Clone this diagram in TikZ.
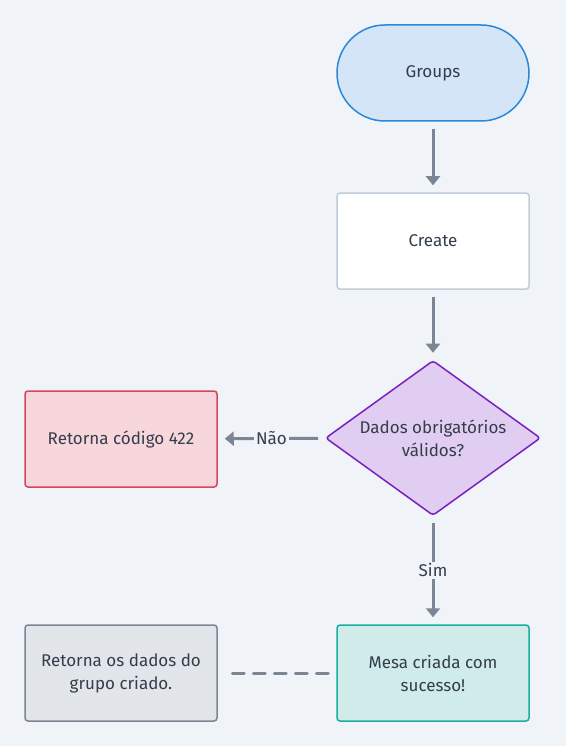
\documentclass[tikz,border=0pt]{standalone}
\usepackage{fontspec}
\setmainfont{Fira Sans}
\usetikzlibrary{shapes.geometric,arrows.meta}
\definecolor{bg}{HTML}{F0F3F7}
\definecolor{txt}{HTML}{333D4B}
\definecolor{edge}{HTML}{7A8694}
\definecolor{gline}{HTML}{2B88D8}
\definecolor{gfill}{RGB}{211,229,246}
\definecolor{cline}{RGB}{192,204,216}
\definecolor{dline}{RGB}{122,31,192}
\definecolor{dfill}{RGB}{225,205,242}
\definecolor{rline}{RGB}{217,69,92}
\definecolor{rfill}{RGB}{248,215,220}
\definecolor{mline}{RGB}{26,175,154}
\definecolor{mfill}{RGB}{207,236,234}
\definecolor{tfill}{RGB}{226,230,234}
\tikzset{
  base/.style={minimum width=192pt,minimum height=96pt,inner sep=0pt,text=txt,font=\fontsize{17pt}{23pt}\selectfont,align=center,line width=1.5pt,rounded corners=3pt},
  conn/.style={draw=edge,line width=3pt,-{Triangle[length=9pt,width=14pt]},shorten >=7pt,shorten <=7pt},
  lab/.style={fill=bg,text=txt,font=\fontsize{17pt}{20pt}\selectfont,inner sep=2pt}
}
\begin{document}
\begin{tikzpicture}[x=1pt,y=-1pt]
\fill[bg] (0,0) rectangle (566,746);
\useasboundingbox (0,0) rectangle (566,746);
\node[base,rounded corners=48pt,draw=gline,fill=gfill] (groups) at (433,73) {\raisebox{-2pt}{Groups}};
\node[base,draw=cline,fill=white] (create) at (433,241) {\raisebox{-2pt}{Create}};
\node[diamond,shape aspect=1.387,minimum width=215pt,minimum height=155pt,inner sep=0pt,draw=dline,fill=dfill,line width=1.5pt,text=txt,font=\fontsize{17pt}{23pt}\selectfont,align=center,rounded corners=3pt] (dec) at (433,438) {Dados obrigatórios\\válidos?};
\node[base,draw=rline,fill=rfill] (err) at (121,439) {\raisebox{-2pt}{Retorna código 422}};
\node[base,draw=mline,fill=mfill] (ok) at (433,673) {Mesa criada com\\sucesso!};
\node[base,draw=edge,fill=tfill] (ret) at (121,673) {Retorna os dados do\\grupo criado.};
\draw[conn] (groups) -- (create);
\draw[conn] (create) -- (dec);
\draw[conn] (dec) -- node[lab] {Não} (err);
\draw[conn] (dec) -- node[lab] {Sim} (ok);
\draw[draw=edge,line width=3pt,dash pattern=on 12pt off 9pt,line cap=round,shorten >=10pt,shorten <=8pt] (ok) -- (ret);
\end{tikzpicture}
\end{document}
